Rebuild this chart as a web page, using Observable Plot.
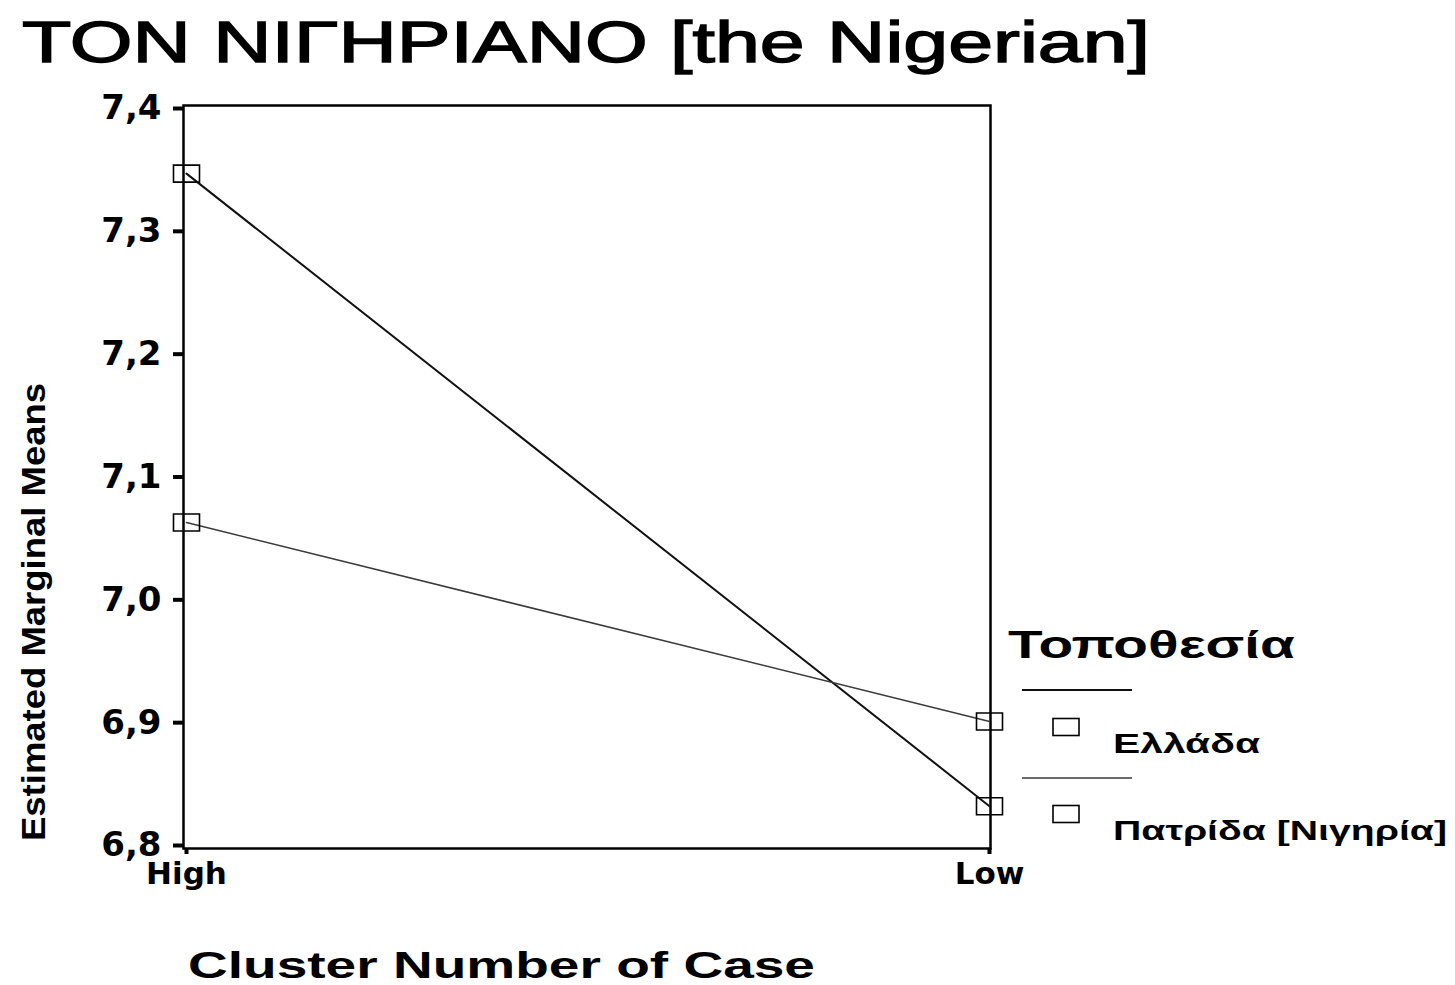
<!DOCTYPE html>
<html><head><meta charset="utf-8">
<script src="https://cdn.jsdelivr.net/npm/d3@7"></script>
<script src="https://cdn.jsdelivr.net/npm/@observablehq/plot@0.6"></script>
<style>body{margin:0;background:#fff}</style>
</head><body><div id="chart"></div>
<script>
const clusters = ["High", "Low"];
const seriesNames = ["Ελλάδα", "Πατρίδα [Νιγηρία]"];
const elladaValues = [7.347, 6.832];
const patridaValues = [7.063, 6.901];
const yTicks = [6.8, 6.9, 7.0, 7.1, 7.2, 7.3, 7.4];
const yTickLabels = ["6,8", "6,9", "7,0", "7,1", "7,2", "7,3", "7,4"];
const titleText = "ΤΟΝ ΝΙΓΗΡΙΑΝΟ [the Nigerian]";
const xLabel = "Cluster Number of Case";
const yLabel = "Estimated Marginal Means";
const legendTitle = "Τοποθεσία";
const seriesStroke = ["#111", "#3a3a3a"];
const seriesWidth = [2, 1.5];

const rows = [];
clusters.forEach((c, i) => {
  rows.push({cluster: c, series: seriesNames[0], value: elladaValues[i]});
  rows.push({cluster: c, series: seriesNames[1], value: patridaValues[i]});
});

const rectSymbol = {draw(ctx) { ctx.rect(-13, -8.5, 26, 17); }};

const W = 1455, H = 985;
const svg = Plot.plot({
  width: W, height: H,
  marginLeft: 183, marginRight: 465, marginTop: 105, marginBottom: 137,
  style: {fontFamily: "DejaVu Sans", color: "#000", background: "#fff"},
  x: {type: "point", domain: clusters, padding: 0, insetLeft: 3, insetRight: 1},
  y: {domain: [6.8, 7.4], insetTop: 3, insetBottom: 3},
  marks: [
    Plot.frame({stroke: "#000", strokeWidth: 2.5}),
    Plot.axisY({ticks: yTicks, tickFormat: d => yTickLabels[yTicks.findIndex(t => Math.abs(t - d) < 1e-9)],
      tickSize: 10, tickPadding: 12, fontSize: 34, fontWeight: "bold", strokeWidth: 4, label: null}),
    Plot.axisX({tickSize: 6, tickPadding: 7, fontSize: 31, fontWeight: "bold", strokeWidth: 4, label: null}),
    ...seriesNames.map((s, i) => Plot.line(rows.filter(r => r.series === s),
      {x: "cluster", y: "value", stroke: seriesStroke[i], strokeWidth: seriesWidth[i]})),
    Plot.dot(rows, {x: "cluster", y: "value", symbol: rectSymbol, r: 5, stroke: "#000", strokeWidth: 1.6, fill: "none"})
  ]
});

const s = d3.select(svg);
function addText(txt, x, y, size, weight, len, extra) {
  const t = s.append("text").attr("x", x).attr("y", y)
    .attr("text-anchor", "start")
    .attr("font-family", "Liberation Sans, Arial, sans-serif")
    .attr("font-size", size).attr("font-weight", weight).attr("fill", "#000")
    .attr("textLength", len).attr("lengthAdjust", "spacingAndGlyphs").text(txt);
  if (extra) extra(t);
  return t;
}
addText(titleText, 22, 62, 57, "normal", 1128, t => t.attr("stroke", "#000").attr("stroke-width", 1.4));
addText(xLabel, 188, 978, 37, "bold", 627);
addText(yLabel, 0, 0, 33, "bold", 458, t => t.attr("text-anchor", "middle")
  .attr("transform", "translate(45,612) rotate(-90)"));

// legend
addText(legendTitle, 1008, 658, 38, "bold", 287);
const legendY = [727, 814];
const legendLineY = [690, 778];
seriesNames.forEach((name, i) => {
  s.append("line").attr("x1", 1022).attr("x2", 1132).attr("y1", legendLineY[i]).attr("y2", legendLineY[i])
    .attr("stroke", seriesStroke[i]).attr("stroke-width", seriesWidth[i]);
  s.append("rect").attr("x", 1053).attr("y", legendY[i] - 8.5).attr("width", 26).attr("height", 17)
    .attr("fill", "none").attr("stroke", "#000").attr("stroke-width", 1.6);
  addText(name, 1113, legendY[i] + 26, 27, "bold", i === 0 ? 147 : 334);
});

document.getElementById("chart").appendChild(svg);
</script>
</body></html>
